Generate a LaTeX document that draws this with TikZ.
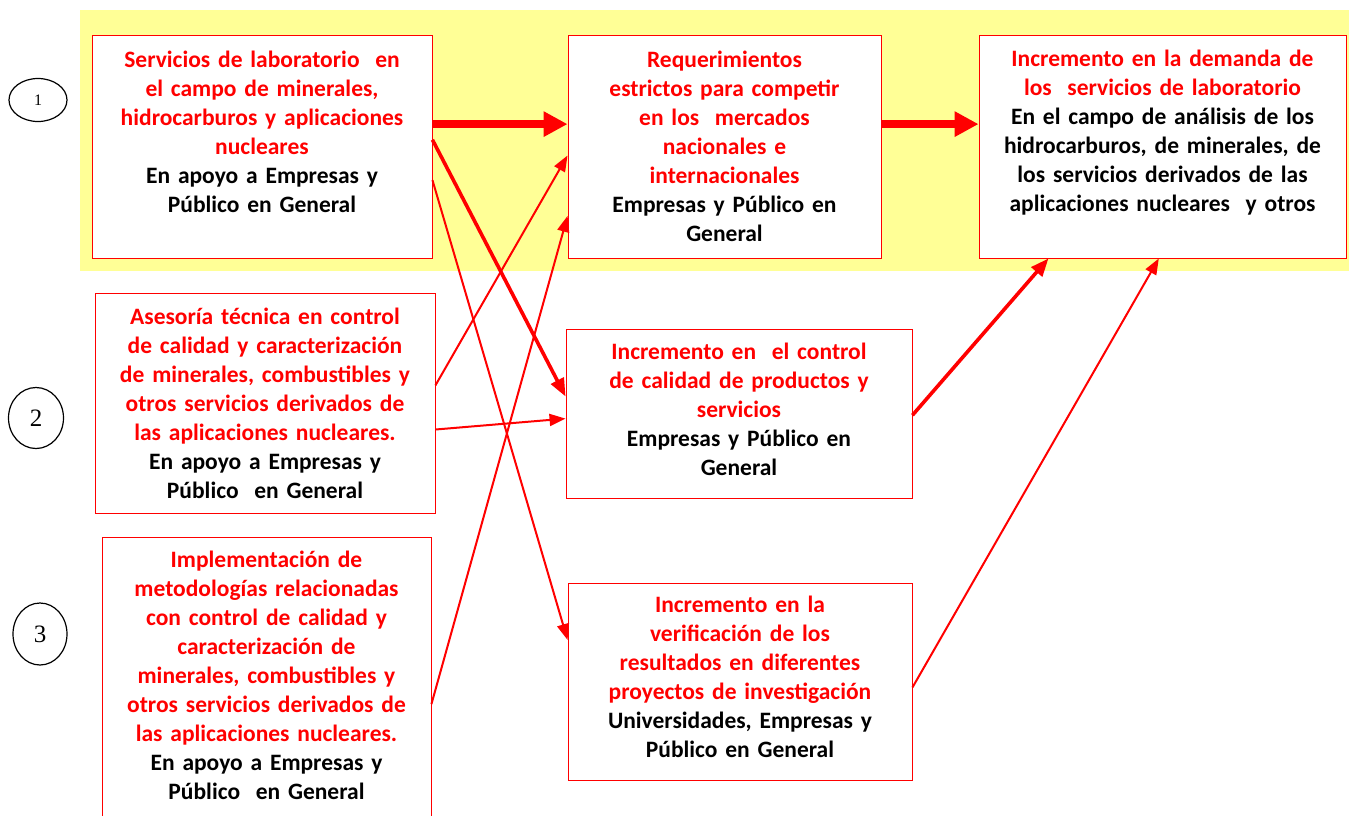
\documentclass[tikz,border=0pt]{standalone}
\usepackage{fontspec}
\setmainfont{Carlito}
\newfontfamily\numfont{Liberation Serif}
\usetikzlibrary{arrows.meta,calc,shapes.geometric}
\definecolor{BandYellow}{RGB}{255,255,150}
\begin{document}
\begin{tikzpicture}[
    x=1pt, y=-1pt,
    box/.style={draw=red, fill=white, line width=0.9pt, inner sep=0pt},
    txt/.style={anchor=north, align=center, text=red, inner sep=0pt, font=\fontsize{23.5}{29}\selectfont\bfseries},
    num/.style={draw=black, ellipse, line width=1.2pt, inner sep=0pt, font=\numfont\fontsize{25}{28}\selectfont},
    arrbig/.style={-{Triangle[length=24pt, width=24pt]}, line width=8pt, red},
    arrmid/.style={-{Triangle[length=18pt, width=14pt]}, line width=3.6pt, red},
    arrthin/.style={-{Triangle[length=16pt, width=12pt]}, line width=2pt, red}
]
    \useasboundingbox (0,0) rectangle (1349,815);
    \fill[BandYellow] (80,10) rectangle (1349,271);

    % boxes
    \node[box, minimum width=340, minimum height=223] (a1) at (262,146.5) {};
    \node[box, minimum width=313, minimum height=223] (b1) at (724.5,146.5) {};
    \node[box, minimum width=367, minimum height=223] (c1) at (1162.5,146.5) {};
    \node[box, minimum width=340, minimum height=220] (a2) at (265,403) {};
    \node[box, minimum width=346, minimum height=169] (b2) at (739,413.5) {};
    \node[box, minimum width=329, minimum height=283] (a3) at (266.5,678.5) {};
    \node[box, minimum width=344, minimum height=197] (b3) at (740,681.5) {};

    % texts
    \node[txt, text width=334] (a1t) at ([yshift=-16]a1.north) {Servicios de laboratorio \ en\\el campo de minerales,\\hidrocarburos y aplicaciones\\nucleares\\\color{black}En apoyo a Empresas y\\P\'ublico en General};
    \node[txt, text width=308] (b1t) at ([yshift=-16]b1.north) {Requerimientos\\estrictos para competir\\en los \ mercados\\nacionales e\\internacionales\\\color{black}Empresas y P\'ublico en\\General};
    \node[txt, text width=362] (c1t) at ([yshift=-15]c1.north) {Incremento en la demanda de\\los \ servicios de laboratorio\\\color{black}En el campo de an\'alisis de los\\hidrocarburos, de minerales, de\\los servicios derivados de las\\aplicaciones nucleares \ y otros};
    \node[txt, text width=334] (a2t) at ([yshift=-15]a2.north) {Asesor\'ia t\'ecnica en control\\de calidad y caracterizaci\'on\\de minerales, combustibles y\\otros servicios derivados de\\las aplicaciones nucleares.\\\color{black}En apoyo a Empresas y\\P\'ublico \ en General};
    \node[txt, text width=340] (b2t) at ([yshift=-14]b2.north) {Incremento en \ el control\\de calidad de productos y\\servicios\\\color{black}Empresas y P\'ublico en\\General};
    \node[txt, text width=324] (a3t) at ([yshift=-14]a3.north) {Implementaci\'on de\\metodolog\'ias relacionadas\\con control de calidad y\\caracterizaci\'on de\\minerales, combustibles y\\otros servicios derivados de\\las aplicaciones nucleares.\\\color{black}En apoyo a Empresas y\\P\'ublico \ en General};
    \node[txt, text width=338] (b3t) at ([yshift=-13]b3.north) {Incremento en la\\verificaci\'on de los\\resultados en diferentes\\proyectos de investigaci\'on\\\color{black}Universidades, Empresas y\\P\'ublico en General};

    % numbers
    \node[num, minimum width=58, minimum height=43, font=\numfont\fontsize{16}{18}\selectfont] (n1) at (38,100) {1};
    \node[num, minimum width=55, minimum height=61] (n2) at (36,418) {2};
    \node[num, minimum width=54, minimum height=62] (n3) at (40,634) {3};

    % arrows
    \draw[arrbig] ($(a1.north east)!0.40!(a1.south east)$) -- ($(b1.north west)!0.40!(b1.south west)$);
    \draw[arrbig] ($(b1.north east)!0.40!(b1.south east)$) -- ($(c1.north west)!0.40!(c1.south west)$);
    \draw[arrmid] ($(a1.north east)!0.47!(a1.south east)$) -- ($(b2.north west)!0.40!(b2.south west)$);
    \draw[arrthin] ($(a1.north east)!0.65!(a1.south east)$) -- ($(b3.north west)!0.29!(b3.south west)$);
    \draw[arrthin] ($(a2.north east)!0.42!(a2.south east)$) -- ($(b1.north west)!0.54!(b1.south west)$);
    \draw[arrthin] ($(a2.north east)!0.62!(a2.south east)$) -- ($(b2.north west)!0.53!(b2.south west)$);
    \draw[arrthin] ($(a3.north east)!0.59!(a3.south east)$) -- ($(b1.north west)!0.81!(b1.south west)$);
    \draw[arrmid] ($(b2.north east)!0.51!(b2.south east)$) -- ($(c1.south west)!0.19!(c1.south east)$);
    \draw[arrthin] ($(b3.north east)!0.53!(b3.south east)$) -- ($(c1.south west)!0.49!(c1.south east)$);
\end{tikzpicture}
\end{document}
